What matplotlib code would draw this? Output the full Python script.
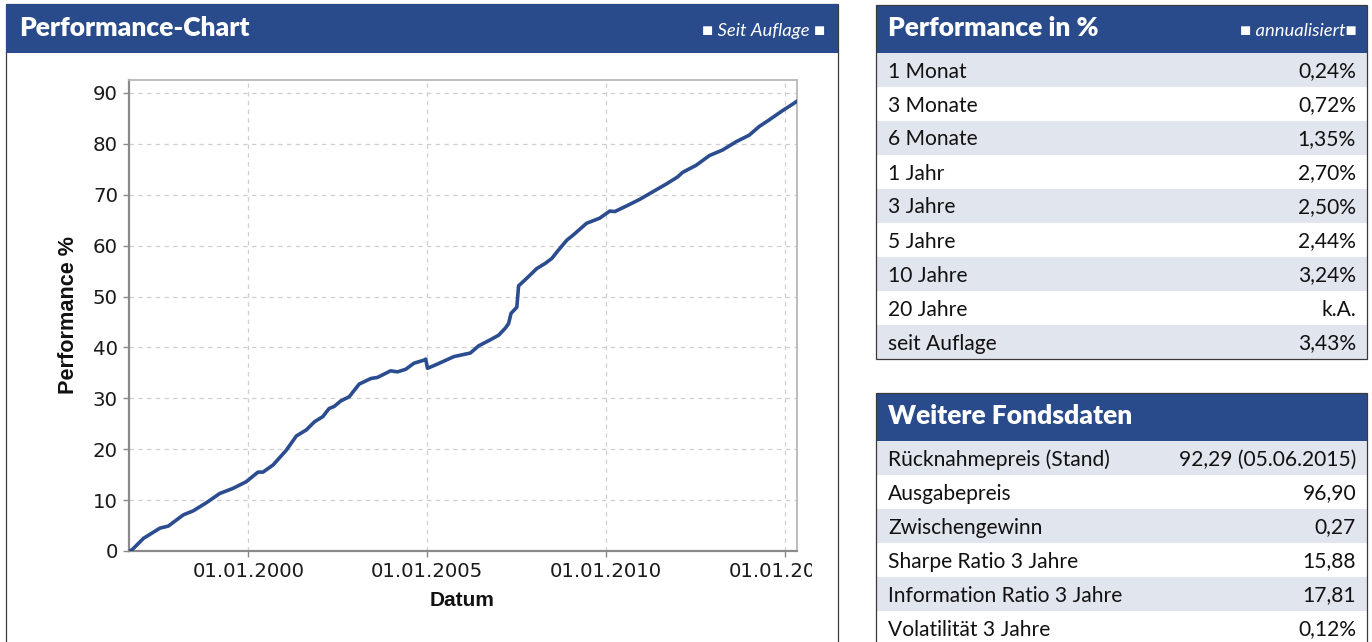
import matplotlib
matplotlib.use('Agg')
import matplotlib.pyplot as plt
from matplotlib.patches import Rectangle
from matplotlib.transforms import Bbox, TransformedBbox
import pandas as pd

# ---------------- data ----------------
dates = ['1996-08-29', '1996-09-27', '1997-01-25', '1997-07-12', '1997-10-05',
         '1998-03-07', '1998-06-17', '1998-10-30', '1999-03-14', '1999-07-27',
         '1999-12-09', '2000-04-08', '2000-05-29', '2000-09-09', '2001-01-22',
         '2001-05-05', '2001-08-15', '2001-11-07', '2002-01-30', '2002-04-05',
         '2002-05-26', '2002-08-03', '2002-10-27', '2003-02-06', '2003-06-06',
         '2003-08-11', '2003-12-24', '2004-03-03', '2004-05-26', '2004-08-19',
         '2004-11-29', '2004-12-17', '2005-01-04', '2005-04-12', '2005-10-01',
         '2006-03-18', '2006-06-10', '2006-10-08', '2007-01-01', '2007-03-11',
         '2007-04-13', '2007-05-08', '2007-07-06', '2007-07-24', '2007-10-16',
         '2008-01-26', '2008-04-20', '2008-06-28', '2008-09-02', '2008-11-29',
         '2009-02-02', '2009-06-18', '2009-10-30', '2010-02-10', '2010-04-02',
         '2010-07-31', '2010-12-13', '2011-04-27', '2011-09-09', '2012-01-04',
         '2012-02-24', '2012-07-12', '2012-11-24', '2013-04-08', '2013-08-22',
         '2014-01-04', '2014-04-16', '2014-07-27', '2014-12-09', '2015-04-09',
         '2015-05-08']
performance = [0.0, 0.2, 2.5, 4.5, 4.9,
               7.1, 7.9, 9.5, 11.3, 12.3,
               13.6, 15.5, 15.5, 16.9, 19.8,
               22.6, 23.8, 25.4, 26.4, 28.0,
               28.4, 29.5, 30.3, 32.8, 33.9,
               34.1, 35.4, 35.2, 35.7, 36.9,
               37.5, 37.7, 35.9, 36.7, 38.2,
               38.9, 40.3, 41.5, 42.4, 43.8,
               44.7, 46.7, 47.9, 52.1, 53.6,
               55.5, 56.5, 57.5, 59.1, 61.1,
               62.1, 64.4, 65.4, 66.8, 66.7,
               67.8, 69.1, 70.6, 72.1, 73.5,
               74.4, 75.8, 77.7, 78.8, 80.4,
               81.7, 83.4, 84.7, 86.5, 88.0,
               88.4]
x_tick_dates = ['2000-01-01', '2005-01-01', '2010-01-01', '2015-01-01']
x_tick_labels = ['01.01.2000', '01.01.2005', '01.01.2010', '01.01.2015']
y_ticks = [0, 10, 20, 30, 40, 50, 60, 70, 80, 90]

perf_labels = ['1 Monat', '3 Monate', '6 Monate', '1 Jahr', '3 Jahre',
               '5 Jahre', '10 Jahre', '20 Jahre', 'seit Auflage']
perf_values = ['0,24%', '0,72%', '1,35%', '2,70%', '2,50%',
               '2,44%', '3,24%', 'k.A.', '3,43%']
fund_labels = ['Rücknahmepreis (Stand)', 'Ausgabepreis', 'Zwischengewinn',
               'Sharpe Ratio 3 Jahre', 'Information Ratio 3 Jahre',
               'Volatilität 3 Jahre']
fund_values = ['92,29 (05.06.2015)', '96,90', '0,27', '15,88', '17,81', '0,12%']

# ---------------- styling ----------------
W, H = 1372, 642
BLUE = '#294b8b'
LINE = '#2b4c8e'
SHADE = '#e1e5ee'
BORDER = '#3a3a3a'
TXT = '#111111'
UI_FONT = ['Lato', 'Liberation Sans', 'DejaVu Sans']

fig = plt.figure(figsize=(W / 100, H / 100), dpi=100)
renderer = fig.canvas.get_renderer()


def fx(x):
    return x / W


def fy(y):
    return 1 - y / H


def rect(x0, y0, x1, y1, **kw):
    fig.add_artist(Rectangle((fx(x0), fy(y1)), (x1 - x0) / W, (y1 - y0) / H,
                             transform=fig.transFigure, **kw))


def fit(s, target, **kw):
    t = fig.text(0, 0, s, fontsize=20, **kw)
    w = t.get_window_extent(renderer).width
    t.remove()
    return 20 * target / w


def ftext(x, y, s, **kw):
    fig.text(fx(x), fy(y), s, **kw)


TITLE_W = 'heavy'
title_fs = fit('Performance-Chart', 231, family=UI_FONT, weight=TITLE_W)
row_fs = fit('Rücknahmepreis (Stand)', 223, family=UI_FONT)
ital_fs = fit('Seit Auflage', 92, family=UI_FONT, style='italic')
xlab_fs = fit('Datum', 65, family='Liberation Sans', weight='bold')
ylab_fs = fit('Performance %', 158, family='Liberation Sans', weight='bold')

# ---------------- left panel ----------------
rect(6, 4, 838, 700, facecolor='white', edgecolor=BORDER, lw=0.9, zorder=-5)
rect(6, 4, 838, 53, facecolor=BLUE, edgecolor='none', zorder=-4)
ftext(19, 36, 'Performance-Chart', color='white', fontsize=title_fs,
      family=UI_FONT, weight=TITLE_W, va='baseline', ha='left')
ftext(825, 36, '■ Seit Auflage ■', color='white', fontsize=ital_fs,
      family=UI_FONT, style='italic', va='baseline', ha='right')

ax = fig.add_axes([fx(129), fy(551), (797 - 129) / W, (551 - 80) / H])
ax.plot(pd.to_datetime(dates), performance, color=LINE, lw=2.6,
        solid_joinstyle='round', solid_capstyle='round', zorder=3)
ax.set_xlim(pd.Timestamp('1996-08-29'), pd.Timestamp('2015-05-08'))
ax.set_ylim(0, 92.55)
ax.set_yticks(y_ticks)
ax.set_xticks(pd.to_datetime(x_tick_dates), labels=x_tick_labels)
ax.grid(True, linestyle=(0, (3.5, 3.5)), color='#cfcfcf', lw=0.9, zorder=0)
ax.set_axisbelow(True)
for side in ['left', 'bottom']:
    ax.spines[side].set_color('#8a8a8a')
    ax.spines[side].set_linewidth(1.6)
for side in ['top', 'right']:
    ax.spines[side].set_color('#b8b8b8')
    ax.spines[side].set_linewidth(1.3)
ax.tick_params(axis='both', direction='out', length=4, width=1,
               color='#8a8a8a', labelsize=14.2, labelcolor='#1a1a1a', pad=4)
for lab in ax.get_xticklabels() + ax.get_yticklabels():
    lab.set_family('DejaVu Sans')
clip = TransformedBbox(Bbox([[0, 0], [fx(812), 1]]), fig.transFigure)
for lab in ax.get_xticklabels():
    lab.set_clip_box(clip)
    lab.set_clip_on(True)

ftext(462, 601, 'Datum', fontsize=xlab_fs, family='Liberation Sans',
      weight='bold', ha='center', va='center', color=TXT)
ftext(68, 315, 'Performance %', fontsize=ylab_fs, family='Liberation Sans',
      weight='bold', ha='center', va='center', rotation=90, color=TXT)

# ---------------- right tables ----------------
TX0, TX1 = 876, 1367
ROW_H = 34
HEAD_H = 48


def table(top, title, labels, values, right_note=None, bottom=None):
    rows_top = top + HEAD_H
    rect(TX0, top, TX1, top + HEAD_H, facecolor=BLUE, edgecolor='none', zorder=-4)
    ftext(888, top + 31, title, color='white', fontsize=title_fs,
          family=UI_FONT, weight=TITLE_W, va='baseline', ha='left')
    if right_note:
        ftext(1357, top + 31, right_note, color='white', fontsize=ital_fs,
              family=UI_FONT, style='italic', va='baseline', ha='right')
    for i, (lab, val) in enumerate(zip(labels, values)):
        y0 = rows_top + i * ROW_H
        if i % 2 == 0:
            rect(TX0, y0, TX1, y0 + ROW_H, facecolor=SHADE, edgecolor='none',
                 zorder=-4)
        ftext(888, y0 + 24.5, lab, color=TXT, fontsize=row_fs, family=UI_FONT,
              va='baseline', ha='left')
        ftext(1356, y0 + 24.5, val, color=TXT, fontsize=row_fs, family=UI_FONT,
              va='baseline', ha='right')
    end = rows_top + len(labels) * ROW_H if bottom is None else bottom
    rect(TX0, top, TX1, end, facecolor='none', edgecolor=BORDER, lw=0.9,
         zorder=-3)


table(5, 'Performance in %', perf_labels, perf_values, right_note='■ annualisiert■')
table(393, 'Weitere Fondsdaten', fund_labels, fund_values, bottom=700)

fig.savefig('out.png', dpi=100)
